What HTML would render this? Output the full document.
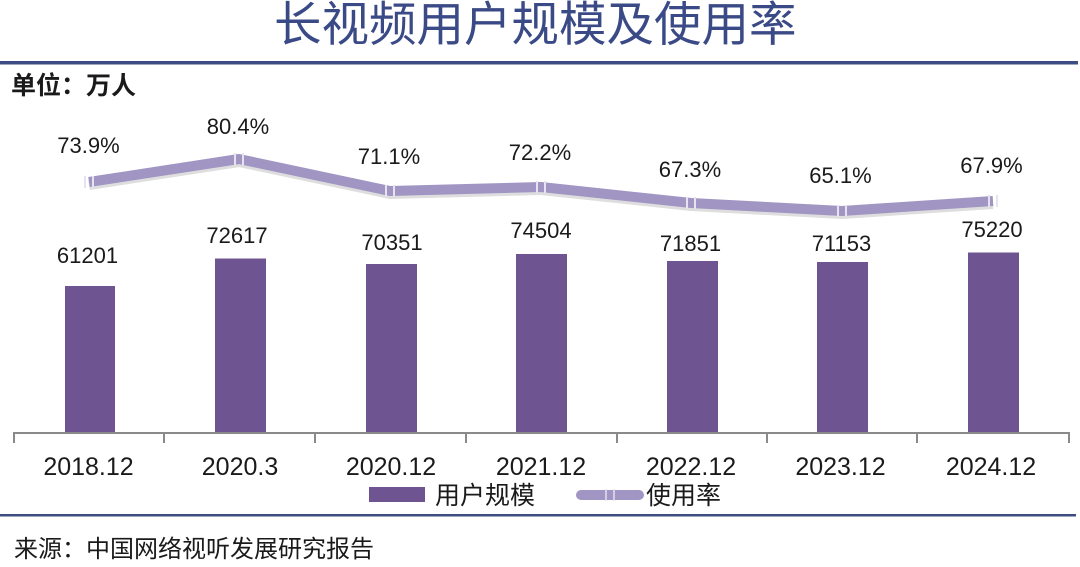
<!DOCTYPE html>
<html>
<head>
<meta charset="utf-8">
<style>
html,body{margin:0;padding:0;background:#fff;}
body{width:1080px;height:567px;overflow:hidden;position:relative;}
svg{position:absolute;left:0;top:0;}
</style>
</head>
<body>
<svg width="1080" height="567" viewBox="0 0 1080 567" xmlns="http://www.w3.org/2000/svg">
  <!-- Title -->
  <text x="274" y="41" font-family="'Liberation Sans','Noto Sans CJK SC',sans-serif" font-size="47.5" fill="#3a4a86">长视频用户规模及使用率</text>
  <!-- top rule -->
  <rect x="0" y="61" width="1078" height="3.5" fill="#3d4c82"/>
  <!-- unit -->
  <text x="11" y="94" font-family="'Liberation Sans','Noto Sans CJK SC',sans-serif" font-size="25" font-weight="bold" fill="#1a1a1a">单位：万人</text>

  <!-- bars -->
  <g fill="#6e5592">
    <rect x="65" y="286" width="50" height="147"/>
    <rect x="215" y="258.5" width="51" height="174.5"/>
    <rect x="366" y="264" width="51" height="169"/>
    <rect x="516" y="254" width="51" height="179"/>
    <rect x="667" y="261" width="51" height="172"/>
    <rect x="817" y="262" width="51" height="171"/>
    <rect x="968" y="252.5" width="51" height="180.5"/>
  </g>

  <!-- axis -->
  <g stroke="#8a8a8a" stroke-width="2" fill="none">
    <line x1="14" y1="433" x2="1069" y2="433"/>
    <line x1="14" y1="432" x2="14" y2="443"/>
    <line x1="164" y1="432" x2="164" y2="443"/>
    <line x1="315" y1="432" x2="315" y2="443"/>
    <line x1="466" y1="432" x2="466" y2="443"/>
    <line x1="617" y1="432" x2="617" y2="443"/>
    <line x1="767" y1="432" x2="767" y2="443"/>
    <line x1="917" y1="432" x2="917" y2="443"/>
    <line x1="1069" y1="432" x2="1069" y2="443"/>
  </g>

  <!-- line shadow -->
  <polyline points="89,185 239,162 390,194 541,190 691,206 842,214 993,204" fill="none" stroke="#c8c8c8" stroke-opacity="0.6" stroke-width="10" stroke-linejoin="round"/>
  <!-- line -->
  <polyline points="89,182 239,159 390,191 541,187 691,203 842,211 993,201" fill="none" stroke="#a095c3" stroke-width="10" stroke-linejoin="round"/>
  <!-- markers -->
  <g stroke="#e6e2ef" stroke-width="2">
    <line x1="85" y1="176" x2="85" y2="188"/><line x1="93" y1="176" x2="93" y2="188"/>
    <line x1="235" y1="153" x2="235" y2="165"/><line x1="243" y1="153" x2="243" y2="165"/>
    <line x1="386" y1="185" x2="386" y2="197"/><line x1="394" y1="185" x2="394" y2="197"/>
    <line x1="537" y1="181" x2="537" y2="193"/><line x1="545" y1="181" x2="545" y2="193"/>
    <line x1="687" y1="197" x2="687" y2="209"/><line x1="695" y1="197" x2="695" y2="209"/>
    <line x1="838" y1="205" x2="838" y2="217"/><line x1="846" y1="205" x2="846" y2="217"/>
    <line x1="989" y1="195" x2="989" y2="207"/><line x1="997" y1="195" x2="997" y2="207"/>
  </g>

  <!-- percent labels -->
  <g font-family="'Liberation Sans',sans-serif" font-size="22" fill="#1a1a1a" text-anchor="middle">
    <text x="88.5" y="153">73.9%</text>
    <text x="238" y="134">80.4%</text>
    <text x="389" y="164">71.1%</text>
    <text x="540" y="160">72.2%</text>
    <text x="690" y="177">67.3%</text>
    <text x="840.5" y="183">65.1%</text>
    <text x="991.5" y="173">67.9%</text>
  </g>
  <!-- value labels -->
  <g font-family="'Liberation Sans',sans-serif" font-size="22" fill="#1a1a1a" text-anchor="middle">
    <text x="87.5" y="263">61201</text>
    <text x="237" y="243">72617</text>
    <text x="392" y="250">70351</text>
    <text x="541" y="238">74504</text>
    <text x="690.5" y="251">71851</text>
    <text x="841.5" y="251">71153</text>
    <text x="992" y="237">75220</text>
  </g>
  <!-- axis labels -->
  <g font-family="'Liberation Sans',sans-serif" font-size="25" fill="#1a1a1a" text-anchor="middle">
    <text x="88.5" y="475">2018.12</text>
    <text x="240" y="475">2020.3</text>
    <text x="391" y="475">2020.12</text>
    <text x="541" y="475">2021.12</text>
    <text x="691" y="475">2022.12</text>
    <text x="840.5" y="475">2023.12</text>
    <text x="991" y="475">2024.12</text>
  </g>

  <!-- legend -->
  <rect x="369" y="487" width="56" height="15" fill="#6e5592"/>
  <text x="435" y="504" font-family="'Liberation Sans','Noto Sans CJK SC',sans-serif" font-size="25" fill="#1a1a1a">用户规模</text>
  <line x1="581" y1="495" x2="639" y2="495" stroke="#a095c3" stroke-width="10" stroke-linecap="round"/>
  <line x1="606" y1="489" x2="606" y2="501" stroke="#e6e2ef" stroke-width="1.5"/>
  <line x1="614" y1="489" x2="614" y2="501" stroke="#e6e2ef" stroke-width="1.5"/>
  <text x="646" y="504" font-family="'Liberation Sans','Noto Sans CJK SC',sans-serif" font-size="25" fill="#1a1a1a">使用率</text>

  <!-- bottom rule -->
  <rect x="0" y="514" width="1076" height="2.5" fill="#3d4c82"/>

  <!-- source -->
  <text x="14" y="557" font-family="'Liberation Sans','Noto Sans CJK SC',sans-serif" font-size="24" fill="#1a1a1a">来源：中国网络视听发展研究报告</text>
</svg>
</body>
</html>
